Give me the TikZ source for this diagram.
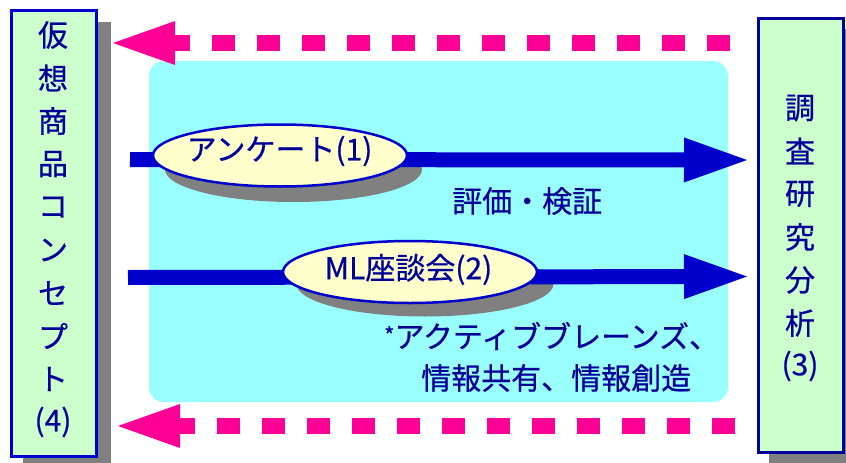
\documentclass[tikz,border=0pt]{standalone}
\usepackage{fontspec}
\setmainfont[FakeBold=0.6]{Noto Sans CJK JP}
\usetikzlibrary{arrows.meta,shapes.geometric}
\definecolor{boxgreen}{RGB}{204,255,204}
\definecolor{boxblue}{RGB}{0,0,204}
\definecolor{boxnavy}{RGB}{0,0,153}
\definecolor{txt}{RGB}{0,0,153}
\definecolor{panelcyan}{RGB}{153,255,255}
\definecolor{pinkc}{RGB}{255,0,150}
\definecolor{arrowblue}{RGB}{0,0,204}
\definecolor{shadowgray}{RGB}{128,128,128}
\definecolor{cream}{RGB}{255,255,204}
\begin{document}
\begin{tikzpicture}[x=1pt,y=-1pt,
  sidebox/.style={rectangle,fill=boxgreen,line width=2.5pt,minimum width=85pt,inner sep=0pt},
  boxshadow/.style={fill=shadowgray},
  panel/.style={rectangle,fill=panelcyan,rounded corners=15pt,minimum width=579pt,minimum height=341pt,inner sep=0pt},
  vchar/.style={text=txt,font=\fontsize{30pt}{34pt}\selectfont,inner sep=0pt},
  lbl/.style={text=txt,font=\fontsize{30pt}{34pt}\selectfont,inner sep=0pt},
  ell/.style={ellipse,draw=arrowblue,fill=cream,line width=2.5pt,minimum width=254pt,minimum height=62pt,inner sep=0pt},
  ellshadow/.style={ellipse,fill=shadowgray,minimum width=257pt,minimum height=65pt,inner sep=0pt},
  pinkarrow/.style={draw=pinkc,line width=16pt,dash pattern=on 23pt off 22pt,
    -{Triangle[length=62pt,width=44pt,line width=0pt,fill=pinkc]}},
  bluearrow/.style={draw=arrowblue,line width=15pt,
    -{Triangle[length=63pt,width=45pt,line width=0pt,fill=arrowblue]}}
]
\useasboundingbox (0,0) rectangle (846,463);
\clip (0,0) rectangle (846,463);

% side boxes (shadows first)
\fill[boxshadow] (23,22) rectangle (111,470);
\fill[boxshadow] (769,29) rectangle (860,470);
\node[sidebox,draw=boxblue,minimum height=446pt] (lbox) at (54,233.5) {};
\node[sidebox,draw=boxnavy,minimum height=434pt] (rbox) at (801,235.5) {};

% left vertical text
\foreach \c [count=\i] in {仮,想,商,品,コ,ン,セ,プ,ト,(4)}
  \node[vchar] (lt\i) at (53,{35+43*(\i-1)}) {\c};
% right vertical text
\foreach \c [count=\i] in {調,査,研,究,分,析,(3)}
  \node[vchar] (rt\i) at (800,{108+43*(\i-1)}) {\c};

% cyan panel
\node[panel] (panel) at (438.5,231.5) {};

% pink feedback arrows
\coordinate (p1s) at (730,43);
\coordinate (p1e) at (113,43);
\coordinate (p2s) at (735,426);
\coordinate (p2e) at (118,426);
\draw[pinkarrow] (p1s) -- (p1e);
\draw[pinkarrow] (p2s) -- (p2e);

% ellipse shadows
\node[ellshadow] (e1s) at (293.5,169.5) {};
\node[ellshadow] (e2s) at (425,284) {};

% blue arrows
\coordinate (b1s) at (130,159.5);
\coordinate (b1e) at (747,160);
\coordinate (b2s) at (128,277.5);
\coordinate (b2e) at (747,276.5);
\draw[bluearrow] (b1s) -- (b1e);
\draw[bluearrow] (b2s) -- (b2e);

% ellipses
\node[ell] (e1) at (280,155.5) {};
\node[ell] (e2) at (410,272) {};
\node[lbl] (t1) at (279.5,151) {アンケート(1)};
\node[lbl] (t2) at (408.5,269.5) {ML座談会(2)};

% labels
\node[lbl,anchor=west] (t3) at (452,201) {評価・検証};
\node[lbl,anchor=west] (t4) at (384,336) {\raisebox{4pt}{\fontsize{22pt}{22pt}\selectfont *}アクティブブレーンズ、};
\node[lbl,anchor=west] (t5) at (421,378) {情報共有、情報創造};
\end{tikzpicture}
\end{document}
